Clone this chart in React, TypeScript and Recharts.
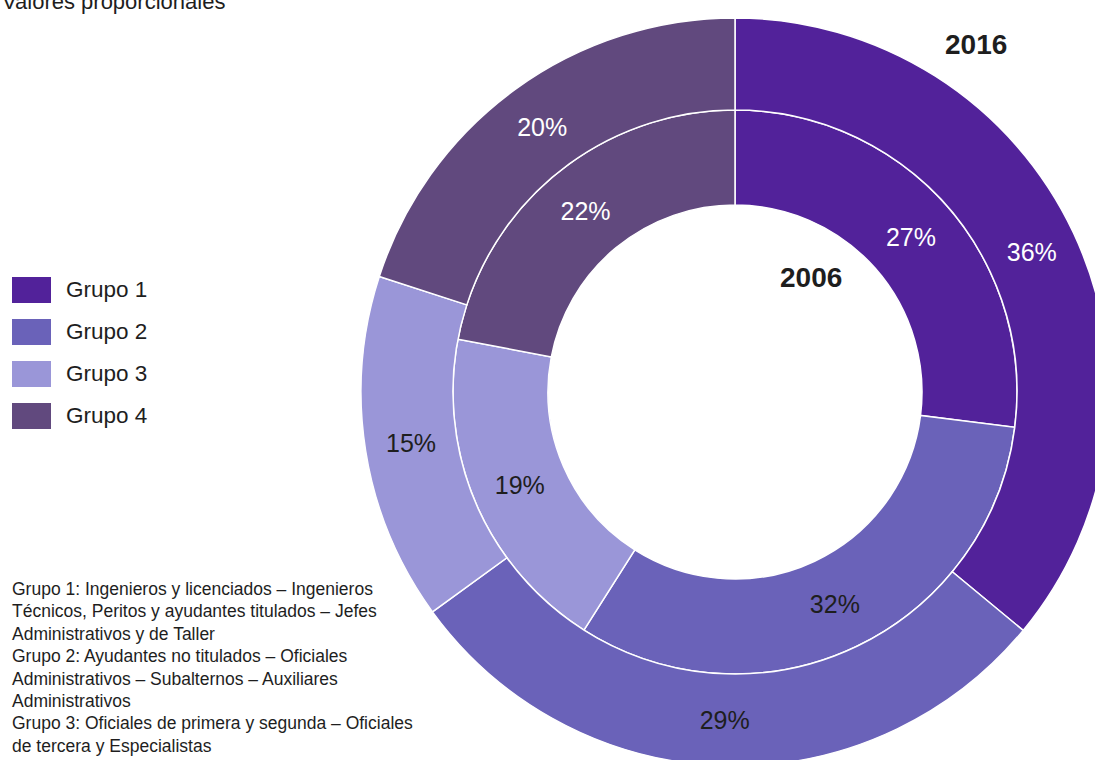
import React from 'react';
import { PieChart, Pie, Cell, Legend } from 'recharts';

const groups = ['Grupo 1', 'Grupo 2', 'Grupo 3', 'Grupo 4'];
const values2006 = [27, 32, 19, 22];
const values2016 = [36, 29, 15, 20];
const colors = ['#52229a', '#6a62b9', '#9a96d8', '#61497e'];
const labelColors = ['#ffffff', '#1e1e1e', '#1e1e1e', '#ffffff'];
const noteLines = [
    'Grupo 1: Ingenieros y licenciados – Ingenieros',
    'Técnicos, Peritos y ayudantes titulados – Jefes',
    'Administrativos y de Taller',
    'Grupo 2: Ayudantes no titulados – Oficiales',
    'Administrativos – Subalternos – Auxiliares',
    'Administrativos',
    'Grupo 3: Oficiales de primera y segunda – Oficiales',
    'de tercera y Especialistas',
];

const data2006 = groups.map((name, i) => ({ name, value: values2006[i] }));
const data2016 = groups.map((name, i) => ({ name, value: values2016[i] }));

const FONT = '"Liberation Sans", Arial, sans-serif';
const RADIAN = Math.PI / 180;

const renderLabel = (props: any) => {
    const { cx, cy, midAngle, innerRadius, outerRadius, index, value } = props;
    const r = (innerRadius + outerRadius) / 2;
    const x = cx + r * Math.cos(-midAngle * RADIAN);
    const y = cy + r * Math.sin(-midAngle * RADIAN);
    return (
        <text
            x={x}
            y={y}
            fill={labelColors[index]}
            textAnchor="middle"
            dominantBaseline="central"
            style={{ fontFamily: FONT, fontSize: 25 }}
        >
            {value}%
        </text>
    );
};

const LegendBox = () => (
    <div style={{ fontFamily: FONT }}>
        {groups.map((g, i) => (
            <div key={g} style={{ display: 'flex', alignItems: 'center', height: 42 }}>
                <div style={{ width: 39, height: 26, background: colors[i], marginRight: 15 }} />
                <span style={{ fontSize: 22.5, color: '#1e1e1e' }}>{g}</span>
            </div>
        ))}
    </div>
);

export default function App() {
    return (
        <div style={{ position: 'absolute', left: 0, top: 0, width: 1095, height: 760, overflow: 'hidden', background: '#fff' }}>
            <PieChart width={1095} height={760} margin={{ top: 0, right: 0, bottom: 0, left: 0 }}>
                <Pie
                    data={data2006}
                    dataKey="value"
                    nameKey="name"
                    cx={735}
                    cy={392}
                    innerRadius={187}
                    outerRadius={282}
                    startAngle={90}
                    endAngle={-270}
                    stroke="#ffffff"
                    strokeWidth={1.5}
                    label={renderLabel}
                    labelLine={false}
                    isAnimationActive={false}
                >
                    {data2006.map((d, i) => (
                        <Cell key={d.name} fill={colors[i]} />
                    ))}
                </Pie>
                <Pie
                    data={data2016}
                    dataKey="value"
                    nameKey="name"
                    cx={735}
                    cy={392}
                    innerRadius={282}
                    outerRadius={374}
                    startAngle={90}
                    endAngle={-270}
                    stroke="#ffffff"
                    strokeWidth={1.5}
                    label={renderLabel}
                    labelLine={false}
                    isAnimationActive={false}
                >
                    {data2016.map((d, i) => (
                        <Cell key={d.name} fill={colors[i]} />
                    ))}
                </Pie>
                <Legend
                    content={() => <LegendBox />}
                    wrapperStyle={{ position: 'absolute', left: 12, top: 269, width: 200 }}
                />
            </PieChart>
            <div style={{ position: 'absolute', left: 2, top: -11, fontFamily: FONT, fontSize: 22, color: '#1e1e1e', whiteSpace: 'nowrap' }}>
                Valores proporcionales
            </div>
            <div style={{ position: 'absolute', left: 945, top: 29, fontFamily: FONT, fontSize: 28, fontWeight: 'bold', color: '#1e1e1e' }}>
                2016
            </div>
            <div style={{ position: 'absolute', left: 780, top: 262, fontFamily: FONT, fontSize: 28, fontWeight: 'bold', color: '#1e1e1e' }}>
                2006
            </div>
            <div style={{ position: 'absolute', left: 12, top: 578, fontFamily: FONT, fontSize: 17.5, lineHeight: '22.4px', color: '#1e1e1e', whiteSpace: 'nowrap' }}>
                {noteLines.map((n) => (
                    <div key={n}>{n}</div>
                ))}
            </div>
        </div>
    );
}
